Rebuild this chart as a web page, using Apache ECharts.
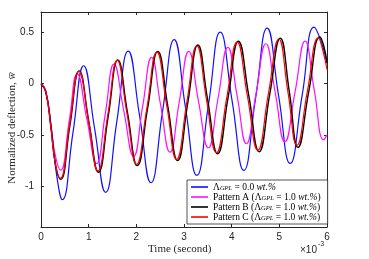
<!DOCTYPE html>
<html>
<head>
<meta charset="utf-8">
<script src="https://cdn.jsdelivr.net/npm/echarts@6/dist/echarts.min.js"></script>
<style>
html,body{margin:0;padding:0;background:#fff;}
#c{width:369px;height:259px;}
</style>
</head>
<body>
<div id="c"></div>
<script>
// time axis values in units of 1e-3 s
const xTicks = [0, 1, 2, 3, 4, 5, 6];
const yTicks = [-1, -0.5, 0, 0.5];
const seriesNames = ['L0', 'PA', 'PB', 'PC'];

const tBlue = [0, 0.1, 0.22, 0.33, 0.447, 0.67, 0.895, 1.125, 1.356, 1.59, 1.83, 2.07, 2.306, 2.55, 2.795, 3.03, 3.27, 3.515, 3.76, 4.01, 4.256, 4.5, 4.745, 4.985, 5.227, 5.48, 5.73, 5.87, 6.0];
const wBlue = [0, -0.07, -0.45, -0.9, -1.133, -0.48, 0.175, -0.44, -1.061, -0.37, 0.318, -0.32, -0.967, -0.27, 0.431, -0.23, -0.896, -0.2, 0.503, -0.17, -0.847, -0.15, 0.542, -0.12, -0.779, -0.11, 0.552, 0.42, 0.2];

const tMag = [0, 0.1, 0.2, 0.3, 0.413, 0.59, 0.76, 0.96, 1.167, 1.35, 1.53, 1.735, 1.943, 2.13, 2.32, 2.51, 2.705, 2.9, 3.10, 3.3, 3.51, 3.715, 3.92, 4.115, 4.31, 4.51, 4.717, 4.915, 5.115, 5.33, 5.54, 5.735, 5.93, 6.0];
const wMag = [0, -0.07, -0.37, -0.7, -0.844, -0.37, 0.097, -0.34, -0.78, -0.29, 0.19, -0.26, -0.711, -0.23, 0.256, -0.21, -0.669, -0.18, 0.315, -0.16, -0.626, -0.14, 0.354, -0.12, -0.587, -0.1, 0.39, -0.09, -0.568, -0.08, 0.415, -0.07, -0.548, -0.5];

const tBlack = [0, 0.1, 0.205, 0.305, 0.41, 0.605, 0.80, 1.005, 1.205, 1.41, 1.61, 1.815, 2.02, 2.235, 2.45, 2.66, 2.865, 3.08, 3.29, 3.495, 3.705, 3.925, 4.14, 4.36, 4.575, 4.80, 5.02, 5.21, 5.39, 5.62, 5.85, 5.93, 6.0];
const wBlack = [0, -0.08, -0.41, -0.79, -0.935, -0.41, 0.125, -0.375, -0.865, -0.32, 0.232, -0.285, -0.80, -0.245, 0.315, -0.22, -0.752, -0.185, 0.377, -0.155, -0.685, -0.135, 0.415, -0.12, -0.665, -0.1, 0.445, -0.08, -0.622, -0.07, 0.456, 0.37, 0.2];

const tRed = [0, 0.1, 0.2, 0.3, 0.405, 0.6, 0.797, 1.0, 1.195, 1.4, 1.6, 1.8, 2.006, 2.22, 2.43, 2.64, 2.845, 3.06, 3.27, 3.47, 3.68, 3.9, 4.115, 4.33, 4.55, 4.77, 4.99, 5.18, 5.37, 5.59, 5.82, 5.91, 6.0];
const wRed = [0, -0.08, -0.4, -0.78, -0.925, -0.40, 0.12, -0.37, -0.854, -0.31, 0.227, -0.28, -0.789, -0.24, 0.308, -0.22, -0.74, -0.18, 0.37, -0.15, -0.675, -0.13, 0.406, -0.12, -0.649, -0.1, 0.435, -0.08, -0.6, -0.07, 0.448, 0.33, 0.136];

const zip = (t, w) => t.map((v, i) => [v, w[i]]);

const legendRich = {
  L0: '{n|\u039B}{s|GPL}{n| = 0.0 }{i|wt.%}',
  PA: '{n|Pattern A (\u039B}{s|GPL}{n| = 1.0 }{i|wt.%}{n|)}',
  PB: '{n|Pattern B (\u039B}{s|GPL}{n| = 1.0 }{i|wt.%}{n|)}',
  PC: '{n|Pattern C (\u039B}{s|GPL}{n| = 1.0 }{i|wt.%}{n|)}'
};

const axisCol = '#262626';
const serif = '"Liberation Serif", "DejaVu Serif", serif';
const sans = '"Liberation Sans", Arial, sans-serif';

const chart = echarts.init(document.getElementById('c'), null, {renderer: 'canvas'});

function mkLine(name, data, color, w) {
  return {
    name, type: 'line', data, smooth: 0.5, symbol: 'none', animation: false,
    lineStyle: {color, width: w}, itemStyle: {color}, xAxisIndex: 0, yAxisIndex: 0
  };
}

function axLine() {
  return {show: true, onZero: false, lineStyle: {color: axisCol, width: 1}};
}

chart.setOption({
  animation: false,
  grid: {left: 41, right: 42, top: 12, bottom: 32, containLabel: false},
  xAxis: [{
    type: 'value', min: 0, max: 6, interval: 1, position: 'bottom',
    axisLine: axLine(),
    axisTick: {show: true, inside: true, length: 3, lineStyle: {color: axisCol}},
    axisLabel: {color: axisCol, fontSize: 10, fontFamily: sans, margin: 5,
      formatter: v => xTicks.includes(v) ? String(v) : ''},
    splitLine: {show: false}
  }, {
    type: 'value', min: 0, max: 6, interval: 1, position: 'top',
    axisLine: axLine(),
    axisTick: {show: true, inside: true, length: 3, lineStyle: {color: axisCol}},
    axisLabel: {show: false}, splitLine: {show: false}
  }],
  yAxis: [{
    type: 'value', min: -1.4, max: 0.7, position: 'left',
    axisLine: axLine(),
    axisTick: {show: true, inside: true, length: 3, lineStyle: {color: axisCol}, customValues: yTicks},
    axisLabel: {color: axisCol, fontSize: 10, fontFamily: sans, margin: 7, customValues: yTicks,
      formatter: v => String(Math.round(v * 10) / 10)},
    splitLine: {show: false}
  }, {
    type: 'value', min: -1.4, max: 0.7, position: 'right',
    axisLine: axLine(),
    axisTick: {show: true, inside: true, length: 3, lineStyle: {color: axisCol}, customValues: yTicks},
    axisLabel: {show: false}, splitLine: {show: false}
  }],
  legend: {
    orient: 'vertical', left: 187, top: 180,
    data: seriesNames,
    icon: 'rect',
    backgroundColor: '#fff', borderColor: axisCol, borderWidth: 0.8, borderRadius: 0,
    padding: [2, 7, 2, 4], itemGap: 0, itemWidth: 17, itemHeight: 1.6,
    formatter: n => legendRich[n],
    textStyle: {
      fontFamily: serif, fontSize: 9.5, color: '#000', lineHeight: 9.3,
      rich: {
        n: {fontFamily: serif, fontSize: 9.5, color: '#000', lineHeight: 9.3},
        i: {fontFamily: serif, fontSize: 9.5, fontStyle: 'italic', color: '#000', lineHeight: 9.3},
        s: {fontFamily: serif, fontSize: 6.5, fontStyle: 'italic', color: '#000', verticalAlign: 'bottom', padding: [2, 0, 0, 0]}
      }
    }
  },
  graphic: [
    {type: 'text', left: 148, top: 244,
      style: {text: 'Time (second)', font: '11px "Liberation Serif"', fill: '#262626'}},
    {type: 'text', x: 300, y: 245,
      style: {text: '\u00D710', font: '10px "Liberation Sans"', fill: '#262626'}},
    {type: 'text', x: 318, y: 241,
      style: {text: '-3', font: '7px "Liberation Sans"', fill: '#262626'}},
    {type: 'text', x: 12, y: 128, rotation: Math.PI / 2,
      style: {
        text: '{n|Normalized deflection, }{i|w\u0305}',
        align: 'center', verticalAlign: 'middle',
        rich: {
          n: {font: '11px "Liberation Serif"', fill: '#262626'},
          i: {font: 'italic 11px "Liberation Serif"', fill: '#262626'}
        }
      }}
  ],
  series: [
    mkLine('L0', zip(tBlue, wBlue), '#1010ff', 1.2),
    mkLine('PA', zip(tMag, wMag), '#ff10ff', 1.2),
    mkLine('PB', zip(tBlack, wBlack), '#000000', 1.4),
    mkLine('PC', zip(tRed, wRed), '#ff0000', 1.2)
  ]
});
</script>
</body>
</html>
